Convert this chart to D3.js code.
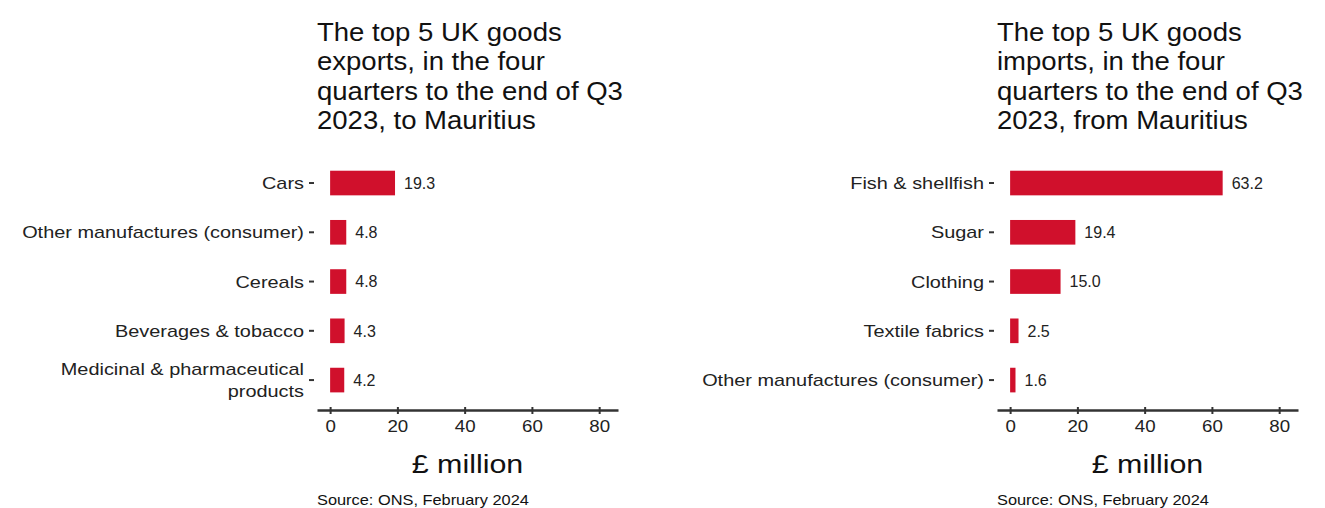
<!DOCTYPE html>
<html>
<head>
<meta charset="utf-8">
<script src="https://cdn.jsdelivr.net/npm/d3@7"></script>
<style>
  body { margin: 0; background: #fff; }
  svg text { font-family: "Liberation Sans", Arial, sans-serif; }
</style>
</head>
<body>
<svg id="chart" width="1325" height="508"></svg>
<script>
// exports to Mauritius
const exportCategories = ['Cars', 'Other manufactures (consumer)', 'Cereals', 'Beverages & tobacco', 'Medicinal & pharmaceutical\nproducts'];
const exportValues = [19.3, 4.8, 4.8, 4.3, 4.2];
const exportTitle = ['The top 5 UK goods', 'exports, in the four', 'quarters to the end of Q3', '2023, to Mauritius'];

// imports from Mauritius
const importCategories = ['Fish & shellfish', 'Sugar', 'Clothing', 'Textile fabrics', 'Other manufactures (consumer)'];
const importValues = [63.2, 19.4, 15.0, 2.5, 1.6];
const importTitle = ['The top 5 UK goods', 'imports, in the four', 'quarters to the end of Q3', '2023, from Mauritius'];

const xTicks = [0, 20, 40, 60, 80];
const xLabel = '£ million';
const source = 'Source: ONS, February 2024';

const barColor = '#d0102c';
const textColor = '#222';
const sx = 1.17; // the original text is a little wider than Liberation Sans
const titleSx = 1.08;
const svg = d3.select('#chart');

const drawPanel = (left, categories, values, titleLines) => {
  const plotLeft = left;
  const plotRight = left + 301;
  const data = categories.map((c, i) => ({ cat: c, value: values[i] }));

  const x = d3.scaleLinear()
    .domain([-3.9, 85.6])
    .range([plotLeft, plotRight]);

  const y = d3.scaleBand()
    .domain(categories)
    .range([158.4, 404.7])
    .paddingInner(0.5)
    .paddingOuter(0.25);

  const g = svg.append('g');

  // title
  g.append('text')
    .attr('transform', `translate(${plotLeft},41) scale(${titleSx},1)`)
    .attr('font-size', 25.5)
    .attr('fill', '#111')
    .selectAll('tspan')
    .data(titleLines)
    .enter().append('tspan')
    .attr('x', 0)
    .attr('y', (d, i) => i * 29.4)
    .text(d => d);

  // bars
  g.selectAll('rect.bar')
    .data(data)
    .enter().append('rect')
    .attr('class', 'bar')
    .attr('x', x(0))
    .attr('y', d => y(d.cat))
    .attr('width', d => x(d.value) - x(0))
    .attr('height', y.bandwidth())
    .attr('fill', barColor);

  // value labels
  g.selectAll('text.value')
    .data(data)
    .enter().append('text')
    .attr('class', 'value')
    .attr('x', d => x(d.value) + 9)
    .attr('y', d => y(d.cat) + y.bandwidth() / 2)
    .attr('dy', '0.36em')
    .attr('font-size', 16)
    .attr('fill', textColor)
    .text(d => d.value.toFixed(1));

  // y axis: ticks and labels only
  const yAxis = g.append('g')
    .attr('transform', `translate(${plotLeft - 3},0)`)
    .call(d3.axisLeft(y).tickSize(5).tickFormat(''));
  yAxis.select('.domain').remove();
  yAxis.selectAll('.tick line').attr('stroke', '#333').attr('stroke-width', 2);
  yAxis.selectAll('.tick').each(function (d) {
    const lines = d.split('\n');
    const t = d3.select(this).append('text')
      .attr('transform', `translate(-10,0) scale(${sx},1)`)
      .attr('text-anchor', 'end')
      .attr('font-size', 17)
      .attr('fill', textColor);
    lines.forEach((line, i) => {
      t.append('tspan')
        .attr('x', 0)
        .attr('y', (i - (lines.length - 1) / 2) * 22)
        .attr('dy', '0.36em')
        .text(line);
    });
  });

  // x axis
  const xAxis = g.append('g')
    .attr('transform', 'translate(0,410)')
    .call(d3.axisBottom(x).tickValues(xTicks).tickSize(4).tickSizeOuter(0).tickPadding(7));
  xAxis.select('.domain').attr('stroke', '#333').attr('stroke-width', 2.5);
  xAxis.selectAll('.tick line').attr('stroke', '#333').attr('stroke-width', 2).attr('y1', -3);
  xAxis.selectAll('.tick text')
    .attr('transform', `scale(${sx},1)`)
    .attr('font-size', 16)
    .attr('fill', textColor)
    .attr('font-family', '"Liberation Sans", Arial, sans-serif');

  g.append('text')
    .attr('transform', `translate(${(plotLeft + plotRight) / 2},473) scale(${sx},1)`)
    .attr('text-anchor', 'middle')
    .attr('font-size', 26)
    .attr('fill', '#111')
    .text(xLabel);

  g.append('text')
    .attr('transform', `translate(${plotLeft},505) scale(${sx},1)`)
    .attr('font-size', 14)
    .attr('fill', '#111')
    .text(source);
};

drawPanel(317, exportCategories, exportValues, exportTitle);
drawPanel(997, importCategories, importValues, importTitle);
</script>
</body>
</html>
